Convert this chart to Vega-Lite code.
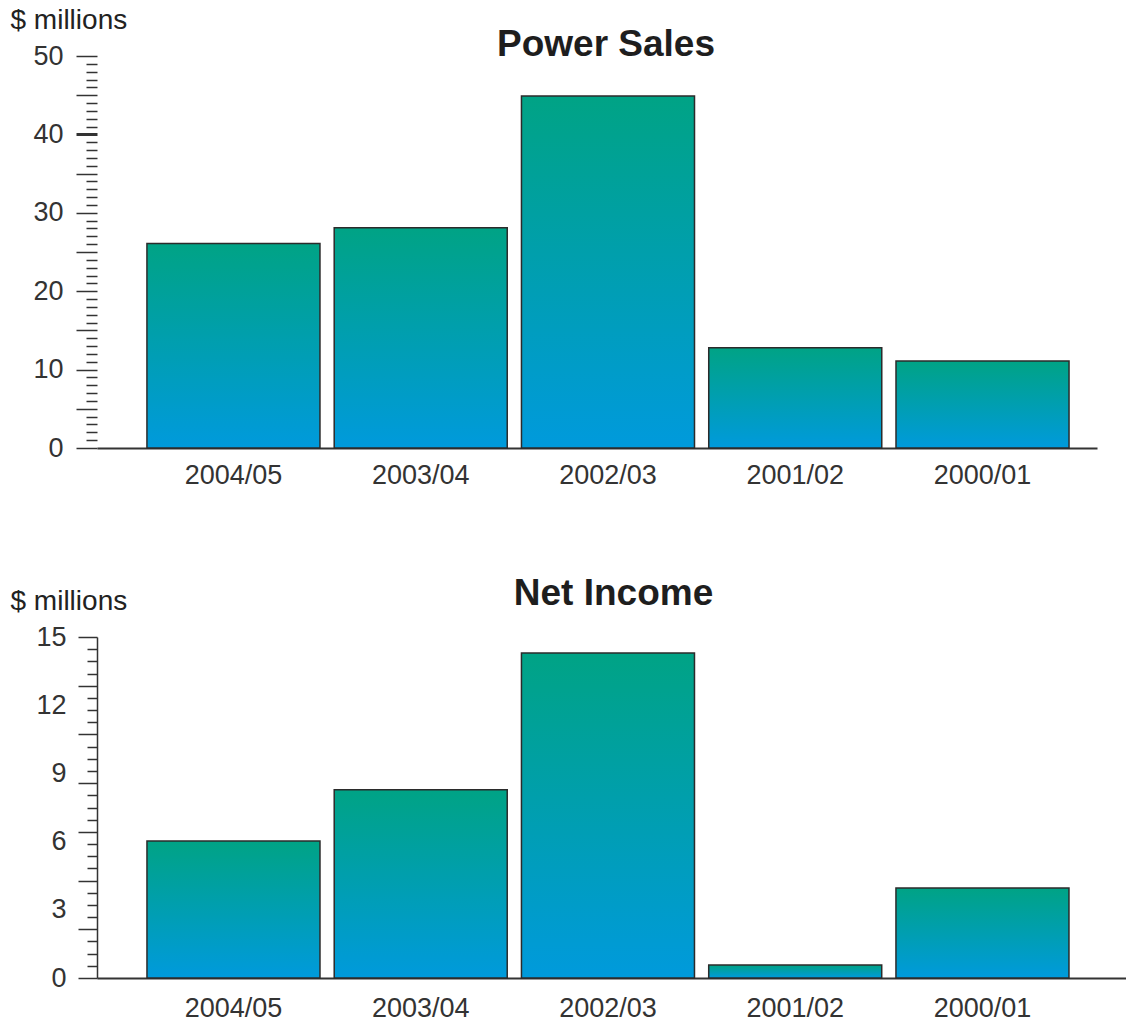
{
  "$schema": "https://vega.github.io/schema/vega-lite/v6.json",
  "background": "white",
  "padding": {"left": 10, "top": 6, "right": 0, "bottom": 0},
  "config": {
    "view": {"stroke": null},
    "font": "Liberation Sans",
    "axisX": {
      "title": null,
      "ticks": false,
      "labelFontSize": 27,
      "labelColor": "#333333",
      "labelAngle": 0,
      "domainColor": "#333333",
      "domainWidth": 2
    },
    "axisY": {
      "grid": false,
      "titleAngle": 0,
      "titleAlign": "left",
      "titleBaseline": "alphabetic",
      "titleFontSize": 28,
      "titleFontWeight": "normal",
      "titleColor": "#222222",
      "labelFontSize": 27,
      "labelColor": "#333333",
      "labelOverlap": false,
      "tickColor": "#333333"
    },
    "title": {"fontSize": 37, "fontWeight": "bold", "color": "#1e1e1e", "anchor": "middle", "frame": "group", "baseline": "alphabetic"}
  },
  "datasets": {
    "sales": [
      {"year": "2004/05", "value": 26.1},
      {"year": "2003/04", "value": 28.1},
      {"year": "2002/03", "value": 44.9},
      {"year": "2001/02", "value": 12.8},
      {"year": "2000/01", "value": 11.1}
    ],
    "income": [
      {"year": "2004/05", "value": 6.03},
      {"year": "2003/04", "value": 8.28},
      {"year": "2002/03", "value": 14.3},
      {"year": "2001/02", "value": 0.57},
      {"year": "2000/01", "value": 3.96}
    ]
  },
  "columns": 1,
  "align": "none",
  "spacing": 87,
  "concat": [
    {
      "width": 1000,
      "height": 392,
      "title": {"text": "Power Sales", "offset": -58, "dx": 9},
      "data": {"name": "sales"},
      "mark": {
        "type": "bar",
        "stroke": "#2b2b2b",
        "strokeWidth": 1.5,
        "fill": {
          "gradient": "linear",
          "x1": 0, "y1": 0, "x2": 0, "y2": 1,
          "stops": [
            {"offset": 0, "color": "#00A385"},
            {"offset": 1, "color": "#009ADC"}
          ]
        }
      },
      "encoding": {
        "x": {
          "field": "year",
          "type": "nominal",
          "sort": null,
          "scale": {"paddingInner": 0.076, "paddingOuter": 0.208, "align": 0.641},
          "axis": {"labelPadding": 14}
        },
        "y": {
          "field": "value",
          "type": "quantitative",
          "scale": {"domain": [0, 50], "nice": false},
          "axis": {
            "title": "$ millions",
            "titleX": -87,
            "titleY": -28,
            "domain": false,
            "values": [0,1,2,3,4,5,6,7,8,9,10,11,12,13,14,15,16,17,18,19,20,21,22,23,24,25,26,27,28,29,30,31,32,33,34,35,36,37,38,39,40,41,42,43,44,45,46,47,48,49,50],
            "labelExpr": "datum.value % 10 == 0 ? format(datum.value, 'd') : ''",
            "labelPadding": 13,
            "tickSize": {"condition": {"test": "datum.value % 5 == 0", "value": 21}, "value": 11},
            "tickWidth": {"condition": {"test": "datum.value == 40", "value": 3}, "value": 1.5}
          }
        }
      }
    },
    {
      "width": 1029,
      "height": 341,
      "title": {"text": "Net Income", "offset": -26, "dx": 2},
      "data": {"name": "income"},
      "mark": {
        "type": "bar",
        "stroke": "#2b2b2b",
        "strokeWidth": 1.5,
        "fill": {
          "gradient": "linear",
          "x1": 0, "y1": 0, "x2": 0, "y2": 1,
          "stops": [
            {"offset": 0, "color": "#00A385"},
            {"offset": 1, "color": "#009ADC"}
          ]
        }
      },
      "encoding": {
        "x": {
          "field": "year",
          "type": "nominal",
          "sort": null,
          "scale": {"paddingInner": 0.076, "paddingOuter": 0.2857, "align": 0.467},
          "axis": {"labelPadding": 17}
        },
        "y": {
          "field": "value",
          "type": "quantitative",
          "scale": {"domain": [0, 15], "nice": false},
          "axis": {
            "title": "$ millions",
            "titleX": -87,
            "titleY": -28,
            "domain": true,
            "domainColor": "#333333",
            "domainWidth": 1.5,
            "values": [0, 0.5357, 1.0714, 1.6071, 2.1429, 2.6786, 3, 3.2143, 3.75, 4.2857, 4.8214, 5.3571, 5.8929, 6, 6.4286, 6.9643, 7.5, 8.0357, 8.5714, 9, 9.1071, 9.6429, 10.1786, 10.7143, 11.25, 11.7857, 12, 12.3214, 12.8571, 13.3929, 13.9286, 14.4643, 15],
            "labelExpr": "datum.value % 3 == 0 ? format(datum.value, 'd') : ''",
            "labelPadding": 12,
            "tickSize": {"condition": {"test": "indexof([0, 2.1429, 4.2857, 6.4286, 8.5714, 10.7143, 12.8571, 15, 3, 6, 9, 12], datum.value) >= 0", "value": 19}, "value": 10},
            "tickOpacity": {"condition": {"test": "indexof([3, 6, 9, 12], datum.value) >= 0", "value": 0}, "value": 1},
            "tickWidth": 1.5
          }
        }
      }
    }
  ]
}
